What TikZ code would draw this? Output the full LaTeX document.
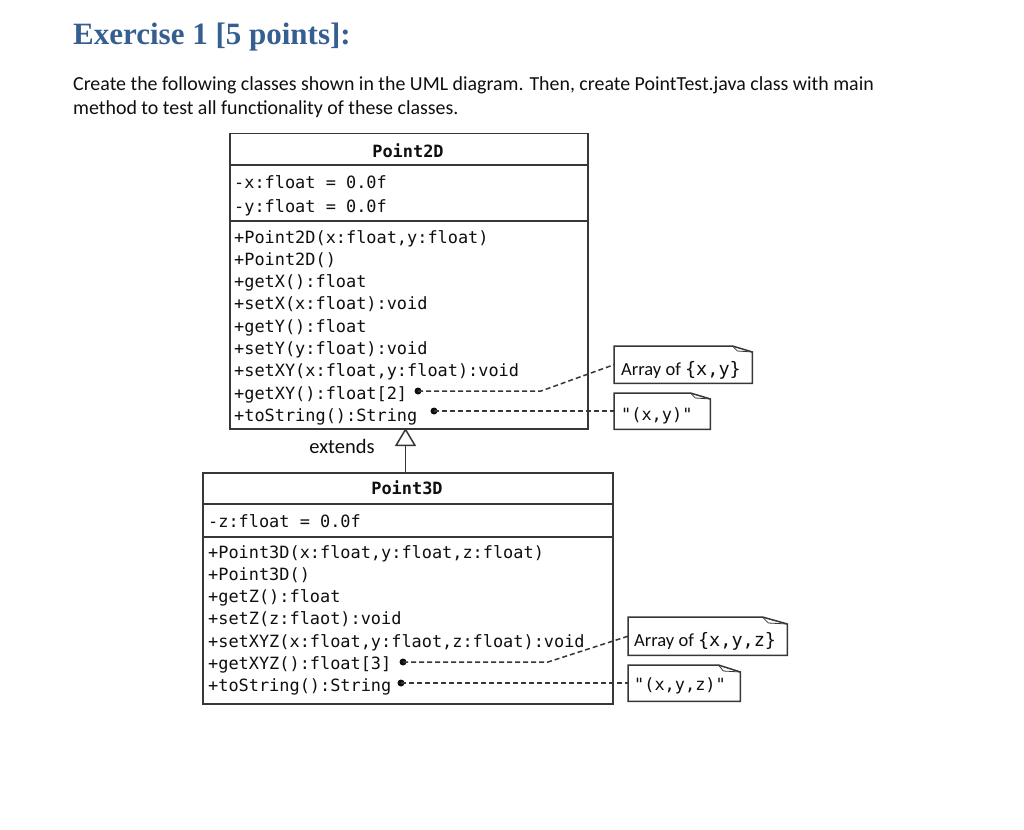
\documentclass[tikz,border=0pt]{standalone}
\usepackage{fontspec}
\setmainfont{Carlito}
\setmonofont{DejaVu Sans Mono}
\newfontfamily\titlefont{Liberation Serif}
\usetikzlibrary{arrows.meta}
\definecolor{titleblue}{RGB}{54,95,145}
\definecolor{linegray}{RGB}{55,55,55}
\definecolor{txt}{RGB}{15,15,15}
\begin{document}
\begin{tikzpicture}[x=1pt,y=-1pt,
  umlbox/.style={draw=linegray, line width=1.5pt, inner sep=0pt, anchor=north west},
  sepline/.style={draw=linegray, line width=1.5pt},
  mem/.style={anchor=base west, inner sep=0pt, font=\fontsize{16.9}{20}\selectfont\ttfamily, text=txt},
  hdr/.style={anchor=base, inner sep=0pt, font=\fontsize{16.9}{20}\selectfont\ttfamily\bfseries, text=txt},
  body/.style={anchor=base west, inner sep=0pt, font=\fontsize{19.9}{22}\selectfont, text=txt},
  dotc/.style={circle, fill=txt, inner sep=0pt, minimum size=7pt},
  conn/.style={draw=linegray, dash pattern=on 5pt off 3pt, line width=1.5pt},
  notebox/.style={inner sep=0pt, anchor=north west},
  noteline/.style={draw=linegray, line width=1.5pt, line join=miter},
  notetext/.style={anchor=base west, inner sep=0pt, font=\fontsize{18.5}{20}\selectfont, text=txt}
]
\useasboundingbox[fill=white] (0,0) rectangle (1024,829);

% Heading and paragraph
\node[anchor=base west, inner sep=0pt, font=\fontsize{31}{31}\selectfont\titlefont\bfseries, text=titleblue] (title) at (73,45) {Exercise 1 [5 points]:};
\node[body] (para1) at (73,91) {Create the following classes shown in the UML diagram. Then, create PointTest.java class with main};
\node[body] (para2) at (73,115) {method to test all functionality of these classes.};

% ---------- Point2D ----------
\node[umlbox, minimum width=358pt, minimum height=295pt] (p2d) at (229,133) {};
\draw[sepline] (229,165) -- (587,165);
\draw[sepline] (229,221) -- (587,221);
\node[hdr] (p2dname) at (408,158) {Point2D};
\node[mem] (p2da1) at (234,189) {-x:float = 0.0f};
\node[mem] (p2da2) at (234,212) {-y:float = 0.0f};
\node[mem] (p2dm1) at (234,243) {+Point2D(x:float,y:float)};
\node[mem] (p2dm2) at (234,265.3) {+Point2D()};
\node[mem] (p2dm3) at (234,287.6) {+getX():float};
\node[mem] (p2dm4) at (234,309.9) {+setX(x:float):void};
\node[mem] (p2dm5) at (234,332.2) {+getY():float};
\node[mem] (p2dm6) at (234,354.5) {+setY(y:float):void};
\node[mem] (p2dm7) at (234,376.8) {+setXY(x:float,y:float):void};
\node[mem] (p2dm8) at (234,399.1) {+getXY():float[2]};
\begin{scope}
\clip (230,134) rectangle (586,427);
\node[mem] (p2dm9) at (234,421.4) {+toString():String};
\end{scope}

% notes for Point2D
\node[notebox, minimum width=138pt, minimum height=37pt] (n1) at (614,346) {};
\draw[noteline] (n1.north west) -- ([xshift=-20pt]n1.north east) -- ([yshift=-6pt]n1.north east) -- (n1.south east) -- (n1.south west) -- cycle;
\draw[draw=linegray, line width=0.8pt] ([xshift=-20pt]n1.north east) -- ([xshift=-15pt,yshift=-5pt]n1.north east) -- ([yshift=-6pt]n1.north east);
\node[notetext] (n1t) at (621,375) {Array of \texttt{\{x,y\}}};

\node[notebox, minimum width=96pt, minimum height=36pt] (n2) at (614,393) {};
\draw[noteline] (n2.north west) -- ([xshift=-20pt]n2.north east) -- ([yshift=-6pt]n2.north east) -- (n2.south east) -- (n2.south west) -- cycle;
\draw[draw=linegray, line width=0.8pt] ([xshift=-20pt]n2.north east) -- ([xshift=-15pt,yshift=-5pt]n2.north east) -- ([yshift=-6pt]n2.north east);
\node[mem] (n2t) at (621,420) {"(x,y)"};

% connectors Point2D
\node[dotc] (d1) at (418,391) {};
\node[dotc] (d2) at (434,411) {};
\coordinate (b1) at (541,391);
\draw[conn] (d1.center) -- (b1) -- (n1.west);
\draw[conn] (d2.center) -- (d2.center -| n2.west);

% ---------- Point3D ----------
\node[umlbox, minimum width=410pt, minimum height=231pt] (p3d) at (202,472) {};
\draw[sepline] (202,504) -- (612,504);
\draw[sepline] (202,537) -- (612,537);
\node[hdr] (p3dname) at (407,494) {Point3D};
\node[mem] (p3da1) at (208,527) {-z:float = 0.0f};
\node[mem] (p3dm1) at (208,558) {+Point3D(x:float,y:float,z:float)};
\node[mem] (p3dm2) at (208,580.3) {+Point3D()};
\node[mem] (p3dm3) at (208,602.6) {+getZ():float};
\node[mem] (p3dm4) at (208,624.9) {+setZ(z:flaot):void};
\node[mem] (p3dm5) at (208,647.2) {+setXYZ(x:float,y:flaot,z:float):void};
\node[mem] (p3dm6) at (208,669.5) {+getXYZ():float[3]};
\node[mem] (p3dm7) at (208,691.8) {+toString():String};

% notes for Point3D
\node[notebox, minimum width=159pt, minimum height=38pt] (n3) at (628,617) {};
\draw[noteline] (n3.north west) -- ([xshift=-25pt]n3.north east) -- ([yshift=-7pt]n3.north east) -- (n3.south east) -- (n3.south west) -- cycle;
\draw[draw=linegray, line width=0.8pt] ([xshift=-25pt]n3.north east) -- ([xshift=-19pt,yshift=-6pt]n3.north east) -- ([yshift=-7pt]n3.north east);
\node[notetext] (n3t) at (634,646) {Array of \texttt{\{x,y,z\}}};

\node[notebox, minimum width=112pt, minimum height=36pt] (n4) at (628,665) {};
\draw[noteline] (n4.north west) -- ([xshift=-22pt]n4.north east) -- ([yshift=-7pt]n4.north east) -- (n4.south east) -- (n4.south west) -- cycle;
\draw[draw=linegray, line width=0.8pt] ([xshift=-22pt]n4.north east) -- ([xshift=-17pt,yshift=-6pt]n4.north east) -- ([yshift=-7pt]n4.north east);
\node[mem] (n4t) at (634,690) {"(x,y,z)"};

% connectors Point3D
\node[dotc] (d3) at (403,662) {};
\node[dotc] (d4) at (401,683) {};
\coordinate (b3) at (548,662);
\draw[conn] (d3.center) -- (b3) -- (n3.west);
\draw[conn] (d4.center) -- (d4.center -| n4.west);

% generalization
\coordinate (gtop) at (405.5,428);
\coordinate (gbot) at (405.5,472);
\draw[draw=linegray, line width=1.5pt, -{Triangle[open, length=18pt, width=21pt, fill=white]}] (gbot) -- (gtop);
\node[anchor=base, inner sep=0pt, font=\fontsize{20.5}{22}\selectfont, text=txt] (ext) at (342,453) {extends};
\end{tikzpicture}
\end{document}
